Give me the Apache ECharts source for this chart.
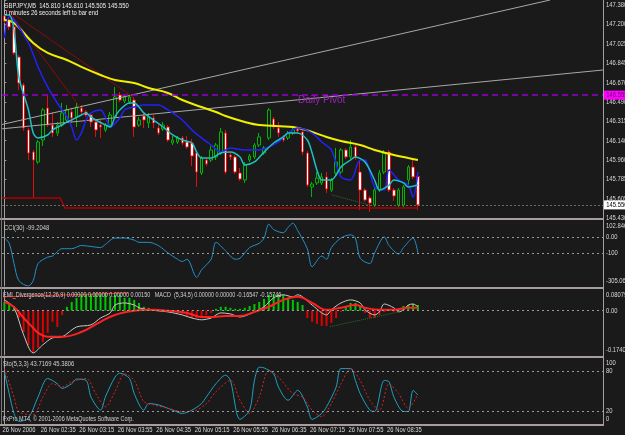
<!DOCTYPE html>
<html>
<head>
<meta charset="utf-8">
<title>GBPJPY,M5</title>
<script src="https://cdn.jsdelivr.net/npm/echarts@6/dist/echarts.min.js"></script>
<style>
  html, body { margin: 0; padding: 0; background: #1a1a1a; }
  #chart { width: 625px; height: 435px; }
</style>
</head>
<body>
<div id="chart"></div>
<script>
// ---- data ----
const slotCount = 125; // bars that fit on screen (chart is shifted left)
const priceMin = 145.430, priceMax = 147.426;
const priceTicks = ['145.430','145.605','145.785','145.960','146.140','146.315','146.490','146.670','146.845','147.025','147.200','147.380'];
const timeTicks = ['26 Nov 2006','26 Nov 02:35','26 Nov 03:15','26 Nov 03:55','26 Nov 04:35','26 Nov 05:15',
                   '26 Nov 05:55','26 Nov 06:35','26 Nov 07:15','26 Nov 07:55','26 Nov 08:35'];
const timeTickEvery = 8; // one time label every 8 bars (40 min)

// [open, close, low, high]
const candles = [
  [147.280,147.234,147.215,147.307],[147.243,147.179,147.151,147.270],[147.179,146.941,146.922,147.206],
  [146.904,146.666,146.602,146.922],[146.648,146.254,146.227,146.666],[146.236,146.025,145.961,146.254],
  [146.034,145.961,145.613,146.053],[145.943,146.126,145.925,146.144],[146.144,146.419,146.089,146.437],
  [146.437,146.281,146.263,146.556],[146.281,146.208,146.172,146.401],[146.208,146.281,146.181,146.309],
  [146.281,146.392,146.263,146.483],[146.327,146.419,146.309,146.465],[146.401,146.346,146.300,146.437],
  [146.355,146.446,146.263,146.492],[146.437,146.401,146.382,146.465],[146.401,146.373,146.355,146.419],
  [146.373,146.309,146.263,146.392],[146.309,146.236,146.172,146.327],[146.281,146.263,146.163,146.327],
  [146.236,146.281,146.218,146.300],[146.281,146.373,146.263,146.401],[146.355,146.538,146.337,146.630],
  [146.556,146.510,146.492,146.584],[146.501,146.538,146.483,146.556],[146.492,146.538,146.474,146.556],
  [146.510,146.263,146.172,146.538],[146.281,146.327,146.263,146.355],[146.364,146.327,146.254,146.392],
  [146.300,146.355,146.254,146.392],[146.346,146.300,146.254,146.373],[146.254,146.208,146.190,146.281],
  [146.245,146.281,146.227,146.309],[146.263,146.144,146.126,146.281],[146.117,146.144,146.098,146.181],
  [146.126,146.163,146.108,146.181],[146.163,146.117,146.098,146.181],[146.126,146.080,146.062,146.181],
  [146.117,145.998,145.906,146.154],[146.025,145.851,145.714,146.044],[145.842,145.979,145.824,145.998],
  [145.961,145.925,145.906,145.979],[145.961,146.053,145.943,146.089],[145.989,146.098,145.961,146.117],
  [146.025,146.218,146.007,146.254],[146.208,145.851,145.833,146.236],[146.007,145.989,145.961,146.034],
  [145.989,145.851,145.833,146.007],[145.842,145.787,145.769,145.888],[145.778,145.915,145.751,145.943],
  [145.961,145.998,145.943,146.016],[145.989,146.098,145.970,146.117],[146.098,146.172,146.080,146.208],
  [146.025,146.071,146.007,146.089],[146.163,146.419,146.144,146.437],[146.337,146.263,146.245,146.355],
  [146.254,146.208,146.172,146.309],[146.172,146.144,146.126,146.190],[146.163,146.208,146.144,146.227],
  [146.208,146.236,146.190,146.254],[146.245,146.227,146.208,146.263],[146.218,146.034,146.007,146.236],
  [146.025,145.732,145.714,146.044],[145.714,145.741,145.622,145.760],[145.751,145.796,145.732,145.851],
  [145.751,145.806,145.732,145.842],[145.806,145.696,145.659,145.851],[145.686,145.778,145.668,145.796],
  [145.842,145.943,145.824,146.071],[145.851,146.053,145.833,146.071],[146.053,145.989,145.970,146.071],
  [145.989,146.080,145.970,146.144],[146.080,145.989,145.961,146.098],[145.851,145.686,145.503,145.961],
  [145.686,145.595,145.577,145.705],[145.613,145.567,145.485,145.632],[145.549,145.686,145.531,145.705],
  [145.686,145.842,145.668,145.870],[145.851,146.025,145.833,146.053],[146.034,145.686,145.668,146.053],
  [145.686,145.632,145.586,145.705],[145.549,145.686,145.531,145.705],[145.549,145.714,145.531,145.732],
  [145.778,145.897,145.723,145.915],[145.897,145.806,145.787,145.979],[145.810,145.550,145.505,145.810]
];

// moving averages as [bar, price]
const maYellow = [[0,147.243],[2,147.215],[6,147.032],[9,146.941],[13,146.877],[16,146.813],[20,146.739],[23,146.694],
  [27,146.666],[30,146.620],[34,146.575],[37,146.510],[41,146.446],[44,146.401],[46,146.364],[50,146.309],[53,146.281],
  [60,146.263],[64,146.218],[67,146.172],[70,146.135],[74,146.098],[77,146.053],[81,146.007],[84,145.979],[86,145.961]];
const maBlue = [[0,147.078],[1,147.270],[2,147.243],[5,147.032],[7,146.813],[9,146.630],[11,146.483],[13,146.355],
  [14,146.263],[15,146.144],[16,146.208],[17,146.327],[18,146.392],[20,146.419],[21,146.355],[22,146.263],[24,146.346],
  [25,146.419],[27,146.446],[29,146.465],[32,146.465],[34,146.419],[37,146.327],[39,146.236],[41,146.163],[43,146.098],
  [45,146.034],[47,146.071],[50,146.053],[53,146.053],[55,146.080],[57,146.126],[59,146.208],[61,146.254],[64,146.208],
  [66,146.126],[68,146.053],[70,145.806],[72,145.778],[74,145.961],[75,145.961],[77,145.714],[79,145.686],[80,145.870],
  [82,145.778],[84,145.732],[85,145.622],[86,145.851]];
const maCyan = [[0,147.289],[1,147.289],[2,147.151],[3,146.721],[5,146.419],[6,146.208],[7,146.163],[9,146.190],
  [10,146.236],[12,146.282],[13,146.309],[14,146.327],[16,146.373],[17,146.392],[18,146.355],[19,146.327],[21,146.282],
  [22,146.263],[23,146.355],[24,146.419],[26,146.483],[27,146.483],[28,146.446],[29,146.392],[31,146.327],[33,146.263],
  [35,146.190],[37,146.144],[39,146.117],[40,146.034],[41,145.979],[43,145.979],[45,146.025],[47,146.034],[49,145.989],
  [50,145.915],[52,145.943],[54,146.034],[56,146.117],[58,146.172],[59,146.208],[61,146.208],[63,146.144],[64,146.025],
  [65,145.870],[66,145.778],[68,145.778],[69,145.824],[70,145.897],[72,145.961],[73,145.989],[75,145.943],[77,145.778],
  [78,145.686],[80,145.732],[81,145.778],[83,145.751],[84,145.714],[86,145.732]];

// drawn objects on the price window
const trendA = [[-0.9,146.282],[113.5,147.426]];
const trendB = [[-0.9,146.245],[124.5,146.785]];
const fan1 = [[0.75,147.334],[26.7,146.538]];
const fan2 = [[0.75,147.334],[15.7,146.446]];
const lowLine = [[-0.5,145.613],[11.6,145.613],[12.6,145.522],[86,145.522]];
const divPrice = [[68.1,145.641],[76.0,145.549]];
const pivotLevel = 146.555;
const bidLevel = 145.550;

// CCI(30)
const cciMin = -305.062, cciMax = 102.8464;
const cciLevels = [0, -100];
const cciTickVals = [102.8464, 0, -100, -305.062];
const cciTickText = ['102.8464', '0.00', '-100', '-305.062'];
const cci = [[0,-2],[1,-37],[2,-164],[3,-271],[5,-305],[6,-271],[7,-164],[9,-124],[10,-117],[12,-71],[14,-71],[16,-51],
  [18,-57],[20,-64],[21,-44],[23,-4],[25,-4],[27,-17],[28,-31],[30,-31],[32,-51],[34,-97],[36,-137],[37,-151],[38,-137],
  [40,-251],[41,-204],[43,-137],[44,-31],[46,-84],[48,-137],[49,-131],[51,-64],[53,-37],[54,-4],[55,83],[56,49],[58,29],
  [59,63],[60,89],[61,43],[63,-71],[64,-184],[66,-117],[67,-137],[68,-64],[70,-4],[72,16],[73,-4],[74,-131],[76,-164],
  [77,-97],[79,3],[80,-51],[82,-104],[83,-64],[85,-4],[86,-99]];

// MACD window
const macdMin = -0.174086, macdMax = 0.080795;
const macdTickVals = [0.080795, 0, -0.174086];
const macdTickText = ['0.080795', '0.00', '-0.174086'];
const macdHist = [0.034,0.030,0.018,-0.029,-0.084,-0.135,-0.162,-0.146,-0.123,-0.087,
  -0.044,-0.064,-0.017,0.015,0.034,0.050,0.062,0.065,0.065,0.069,
  0.065,0.069,0.054,0.062,0.062,0.050,0.050,0.042,0.030,0.015,
  0.011,0.003,0.003,-0.001,-0.001,-0.005,-0.009,-0.013,-0.021,-0.029,
  -0.029,-0.021,-0.017,-0.009,0.007,0.015,0.015,0.011,0.007,0.007,
  0.011,0.018,0.026,0.034,0.046,0.062,0.065,0.062,0.062,0.050,
  0.042,0.034,0.022,-0.029,-0.044,-0.052,-0.060,-0.060,-0.048,-0.029,
  -0.005,0.015,0.030,0.030,0.018,-0.009,-0.029,-0.029,-0.017,-0.005,
  0.003,-0.005,0.007,0.018,0.022,0.026,0.022];
const macdMain = [[0,0.042],[2,0.011],[4,-0.095],[6,-0.166],[8,-0.134],[10,-0.107],[12,-0.103],[15,-0.064],[18,-0.056],
  [20,-0.029],[22,-0.009],[23,0.022],[25,0.030],[27,0.022],[28,0.011],[30,0.003],[34,-0.005],[37,-0.017],[39,-0.029],
  [41,-0.036],[43,-0.029],[45,-0.009],[47,-0.013],[49,-0.025],[52,-0.005],[54,0.015],[56,0.050],[58,0.062],[60,0.054],
  [61,0.062],[64,0.022],[66,-0.009],[67,-0.017],[68,0.003],[70,0.030],[72,0.042],[74,0.030],[75,0.003],[77,-0.017],
  [78,-0.005],[79,0.026],[81,0.011],[82,-0.005],[83,0.003],[84,0.022],[85,0.026],[86,0.015]];
const macdSignal = [[0,0.034],[2,0.014],[4,-0.029],[6,-0.068],[7,-0.087],[9,-0.103],[12,-0.103],[16,-0.084],[20,-0.044],
  [23,-0.017],[27,-0.001],[31,0.003],[34,-0.001],[38,-0.009],[41,-0.025],[43,-0.025],[46,-0.021],[49,-0.021],[52,-0.005],
  [55,0.015],[58,0.042],[61,0.054],[64,0.030],[67,0.003],[70,0.011],[73,0.022],[75,0.011],[78,0.003],[81,0.003],
  [84,0.011],[86,0.011]];
const divMacdRed = [[-0.3,0.054],[25.7,0.069]];
const divMacdGreen = [[67.7,-0.063],[82.3,-0.004]];

// Stochastic(5,3,3)
const stoLevels = [80, 20];
const stoTickVals = [100, 80, 20, 0];
const stoMain = [[0,79],[1,46],[2,16],[3,4],[5,9],[7,41],[9,69],[11,61],[12,54],[14,61],[15,68],[17,66],[18,41],[20,21],
  [21,41],[23,71],[24,77],[26,69],[27,46],[29,21],[30,31],[32,29],[35,21],[37,16],[39,21],[41,31],[42,41],[44,61],[46,74],
  [47,66],[49,7],[51,21],[52,66],[53,86],[54,85],[56,76],[57,56],[59,36],[61,51],[63,26],[64,7],[66,16],[67,26],[69,56],
  [70,84],[72,84],[73,66],[74,46],[76,21],[77,19],[79,66],[80,64],[81,41],[83,19],[84,19],[85,51],[86,44]];
const stoSignal = [[0,84],[2,41],[3,19],[6,14],[8,41],[10,61],[12,56],[14,64],[17,69],[19,46],[21,26],[23,49],[25,76],
  [27,66],[29,34],[31,29],[34,24],[37,19],[39,19],[42,31],[44,49],[47,66],[49,36],[51,16],[53,41],[55,81],[57,71],[60,46],
  [62,41],[64,21],[66,11],[68,31],[70,61],[72,84],[74,66],[76,36],[78,21],[80,61],[82,46],[84,24],[86,45]];

// ---- chart ----
const ff = '"Liberation Sans", sans-serif';
const axisGray = '#a0a0a0';
const labelCol = '#d8d8d8';
const squeeze = 0.78; // MT4 text is narrow, squash texts horizontally
const priceStep = (147.380 - priceMin) / (priceTicks.length - 1);

const cats = [];
for (let i = 0; i < slotCount; i++) cats.push(String(i));

const hiddenCat = g => ({ type: 'category', gridIndex: g, data: cats, boundaryGap: true, show: false });
const hiddenVal = g => ({ type: 'value', gridIndex: g, min: -0.5, max: slotCount - 0.5, show: false });

function rightAxis(grid, min, max, extra) {
  return Object.assign({
    type: 'value', gridIndex: grid, position: 'right', min: min, max: max,
    axisLine: { show: true, lineStyle: { color: axisGray } },
    axisTick: { show: false }, splitLine: { show: false }, axisLabel: { show: false }
  }, extra || {});
}

function line(xi, yi, data, color, width, extra) {
  return Object.assign({
    type: 'line', xAxisIndex: xi, yAxisIndex: yi, data: data, symbol: 'none',
    smooth: false, silent: true, lineStyle: { color: color, width: width }
  }, extra || {});
}

function levels(vals) {
  return {
    silent: true, symbol: 'none', animation: false, label: { show: false },
    lineStyle: { color: '#9a9a9a', type: [2, 3], width: 1 },
    data: vals.map(v => ({ yAxis: v }))
  };
}

// squeezed text, anchored at (x, y)
function txt(x, y, text, opt) {
  opt = opt || {};
  return { type: 'text', z: 101, silent: true, x: x, y: y, scaleX: squeeze,
           style: Object.assign({ text: text, fill: labelCol, fontSize: 7.5, fontFamily: ff, verticalAlign: 'top' }, opt) };
}

const last = candles[candles.length - 1];
const header = 'GBPJPY,M5  ' + [last[0], last[3], last[2], last[1]].map(v => v.toFixed(3)).join(' ');

const baseGraphic = [
  ...[218, 287, 356, 424].map(y => ({
    type: 'rect', z: 100, silent: true, shape: { x: 0, y: y, width: 603, height: 2 }, style: { fill: '#a89c9c' }
  })),
  { type: 'line', z: 100, silent: true, shape: { x1: 603.5, y1: 0, x2: 603.5, y2: 426 }, style: { stroke: axisGray, lineWidth: 1 } },
  { type: 'line', z: 100, silent: true, shape: { x1: 1.5, y1: 0, x2: 1.5, y2: 424 }, style: { stroke: '#777777', lineWidth: 1 } },
  txt(4, 2, header, { fill: '#eeeeee' }),
  txt(4, 9, '0 minutes 26 seconds left to bar end', { fill: '#eeeeee' }),
  { type: 'text', z: 101, left: 298, top: 95, silent: true,
    style: { text: 'Daily Pivot', fill: '#a020c0', fontSize: 10, fontFamily: ff } },
  txt(4, 224, 'CCI(30) -99.2048', { fill: '#d0d0d0' }),
  txt(3, 292, 'EMI_Divergence(12,26,9) 0.00000 0.00000 0.00000 0.00150   MACD  (5,34,5) 0.00000 0.00000 -0.16547 -0.15746', { fill: '#d0d0d0', fontSize: 7 }),
  txt(3, 360, 'Sto(5,3,3) 43.7169 45.3806', { fill: '#d0d0d0' }),
  txt(3, 416, 'FxPro MT4, \u00a9 2001-2006 MetaQuotes Software Corp.', { fill: '#d0d0d0', fontSize: 7 })
];

const option = {
  backgroundColor: '#1a1a1a',
  animation: false,
  textStyle: { fontFamily: ff },
  grid: [
    { left: 2, right: 22, top: 0, height: 218, outerBoundsMode: 'none' },
    { left: 2, right: 22, top: 221, height: 65, outerBoundsMode: 'none' },
    { left: 2, right: 22, top: 290, height: 65, outerBoundsMode: 'none' },
    { left: 2, right: 22, top: 358, height: 66, outerBoundsMode: 'none' }
  ],
  xAxis: [hiddenCat(0), hiddenVal(0), hiddenVal(1), hiddenCat(2), hiddenVal(2), hiddenCat(3), hiddenVal(3)],
  yAxis: [
    rightAxis(0, priceMin, priceMax, {
      interval: priceStep,
      axisTick: { show: true, length: 2, lineStyle: { color: axisGray } }
    }),
    rightAxis(1, cciMin, cciMax),
    rightAxis(2, macdMin, macdMax),
    rightAxis(3, 0, 100)
  ],
  series: [
    {
      type: 'candlestick', xAxisIndex: 0, yAxisIndex: 0, data: candles, barWidth: 3, silent: true,
      itemStyle: { color: '#1a1a1a', color0: '#ffffff', borderColor: '#00b400', borderColor0: '#e01010', borderWidth: 1 },
      markLine: {
        silent: true, symbol: 'none', animation: false, label: { show: false },
        data: [
          { yAxis: pivotLevel, lineStyle: { color: '#9400d3', type: [6, 4], width: 1.5 } },
          { yAxis: bidLevel, lineStyle: { color: '#6a6a58', type: [2, 2], width: 1 } }
        ]
      }
    },
    line(1, 0, trendA, '#a8a8a8', 1),
    line(1, 0, trendB, '#a8a8a8', 1),
    line(1, 0, fan1, '#8b0a0a', 1),
    line(1, 0, fan2, '#8b0a0a', 1),
    line(1, 0, lowLine, '#b00000', 1.5),
    line(1, 0, divPrice, '#2f6f2f', 1, { lineStyle: { color: '#2f6f2f', width: 1, type: 'dotted' } }),
    line(1, 0, maYellow, '#f0f000', 2, { smooth: 0.4 }),
    line(1, 0, maBlue, '#2222ff', 1.5, { smooth: 0.3 }),
    line(1, 0, maCyan, '#20c0c0', 1.5, { smooth: 0.3 }),

    line(2, 1, cci, '#2390c8', 1, { smooth: 0.3, markLine: levels(cciLevels) }),

    {
      type: 'bar', xAxisIndex: 3, yAxisIndex: 2, data: macdHist, barWidth: 2, silent: true,
      itemStyle: { color: p => (p.value >= 0 ? '#00c800' : '#e00000') }
    },
    line(4, 2, macdMain, '#c8c8c8', 1, { smooth: 0.3, markLine: levels([0]) }),
    line(4, 2, macdSignal, '#ff2020', 2, { smooth: 0.4 }),
    line(4, 2, divMacdRed, '#ff2020', 1),
    line(4, 2, divMacdGreen, '#2f6f2f', 1, { lineStyle: { color: '#2f6f2f', width: 1, type: 'dotted' } }),

    line(6, 3, stoMain, '#20a0c0', 1, { smooth: 0.3, markLine: levels(stoLevels) }),
    line(6, 3, stoSignal, '#e02020', 1, { smooth: 0.3, lineStyle: { color: '#e02020', width: 1, type: [2, 2] } })
  ],
  graphic: baseGraphic
};

const chart = echarts.init(document.getElementById('chart'));
chart.setOption(option);

// axis texts placed through the chart's own scales (narrow MT4 style)
const labelX = 606;
const toY = (axis, v) => chart.convertToPixel({ yAxisIndex: axis }, v);
const axisTexts = [];

priceTicks.forEach((t, k) => {
  axisTexts.push(txt(labelX, toY(0, priceMin + k * priceStep), t, { verticalAlign: 'middle' }));
});
axisTexts.push(txt(604, toY(0, pivotLevel), pivotLevel.toFixed(3),
  { verticalAlign: 'middle', fill: '#600060', backgroundColor: '#ff00ff', padding: [1, 4, 0, 3] }));
axisTexts.push(txt(604, toY(0, bidLevel), bidLevel.toFixed(3),
  { verticalAlign: 'middle', fill: '#000000', backgroundColor: '#ffffff', padding: [1, 4, 0, 3] }));

function paneLabels(axis, vals, texts) {
  vals.forEach((v, k) => {
    const va = k === 0 ? 'top' : (k === vals.length - 1 ? 'bottom' : 'middle');
    axisTexts.push(txt(labelX, toY(axis, v) + (va === 'top' ? 1 : va === 'bottom' ? -1 : 0), texts[k], { verticalAlign: va }));
  });
}
paneLabels(1, cciTickVals, cciTickText);
paneLabels(2, macdTickVals, macdTickText);
paneLabels(3, stoTickVals, stoTickVals.map(String));

timeTicks.forEach((t, k) => {
  const x = chart.convertToPixel({ xAxisIndex: 5 }, k * timeTickEvery);
  axisTexts.push(txt(x - 2, 426, t));
});

chart.setOption({ graphic: baseGraphic.concat(axisTexts) });
</script>
</body>
</html>
